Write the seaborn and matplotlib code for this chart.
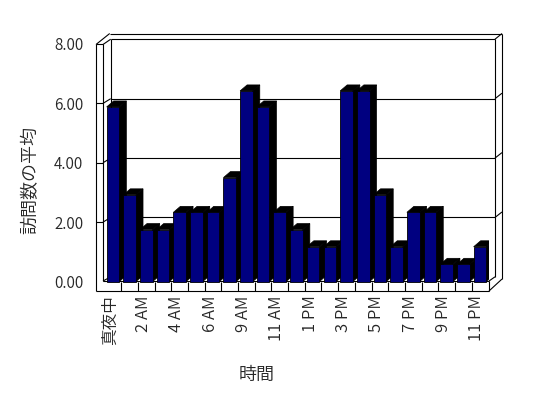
import matplotlib
matplotlib.use("Agg")
import matplotlib.pyplot as plt
from matplotlib.collections import LineCollection
from matplotlib.patches import Polygon
from matplotlib.transforms import ScaledTranslation
import seaborn as sns

# ---- data ----
hours = ["真夜中", "1 AM", "2 AM", "3 AM", "4 AM", "5 AM", "6 AM", "7 AM",
         "9 AM", "10 AM", "11 AM", "正午", "1 PM", "2 PM", "3 PM", "4 PM",
         "5 PM", "6 PM", "7 PM", "8 PM", "9 PM", "10 PM", "11 PM"]
visits = [5.88, 2.92, 1.75, 1.75, 2.33, 2.33, 2.33, 3.50,
          6.42, 5.88, 2.33, 1.75, 1.17, 1.17, 6.42, 6.42,
          2.92, 1.17, 2.33, 2.33, 0.58, 0.58, 1.17]
shown_labels = ["真夜中", "", "2 AM", "", "4 AM", "", "6 AM", "", "9 AM", "",
                "11 AM", "", "1 PM", "", "3 PM", "", "5 PM", "", "7 PM", "",
                "9 PM", "", "11 PM"]
y_ticks = [0, 2, 4, 6, 8]
y_ticklabels = ["0.00", "2.00", "4.00", "6.00", "8.00"]

sns.set_style("white")
plt.rcParams['font.family'] = ['Noto Sans CJK JP', 'DejaVu Sans']
FW = 350

W, H = 548, 398
fig = plt.figure(figsize=(W / 100, H / 100), dpi=100)
fig.patch.set_facecolor("white")

# pixel geometry of the front plane
X0, Y0 = 113.0, 281.5       # centre of first category, value 0
PX, PY = 16.68, 29.75       # px per category, px per unit
L, R, T, B = 96, 489, 44, 291

ax = fig.add_axes([L / W, (H - B) / H, (R - L) / W, (B - T) / H])
ax.set_facecolor("white")

def d(X, Y):
    return ((X - X0) / PX, (Y0 - Y) / PY)

sns.barplot(x=hours, y=visits, color="#000080", saturation=1, width=0.76,
            edgecolor="black", linewidth=0.6, ax=ax)

ax.set_xlim(d(L, 0)[0], d(R, 0)[0])
ax.set_ylim(d(0, B)[1], d(0, T)[1])

# 3D side and top of bars
bdx, bdy = 7 / PX, 6 / PY
for i, p in enumerate(ax.patches):
    x0, w, h = p.get_x(), p.get_width(), p.get_height()
    z = 2 + 0.01 * i
    p.set_zorder(z + 0.005)
    side = Polygon([(x0 + w, 0), (x0 + w + bdx, bdy), (x0 + w + bdx, h + bdy), (x0 + w, h)],
                   closed=True, facecolor="black", edgecolor="black", lw=0.5, zorder=z)
    top = Polygon([(x0, h), (x0 + bdx, h + bdy), (x0 + w + bdx, h + bdy), (x0 + w, h)],
                  closed=True, facecolor="black", edgecolor="black", lw=0.5, zorder=z)
    ax.add_patch(side)
    ax.add_patch(top)

# walls and floor
segs_px = [
    [(96, 44), (96, 291)], [(103, 44), (103, 281)], [(96, 44), (103, 44)],
    [(96, 44), (109.7, 33)], [(103, 44), (110.7, 38.7)],
    [(109.7, 33), (502, 33)], [(110.7, 38.7), (495, 38.7)],
    [(110.7, 38.7), (110.7, 276.8)], [(495, 38.7), (495, 276.8)],
    [(502, 33), (502, 279)], [(495, 38.7), (502, 33)],
    [(96, 291), (489, 291)], [(103, 281), (489, 281)], [(489, 281), (489, 291)],
    [(489, 291), (502, 279)], [(489, 281), (495, 276.8)], [(103, 281), (110.7, 276.8)],
]
for v in y_ticks[1:-1]:
    Yv = Y0 - PY * v
    segs_px += [[(96, Yv), (103, Yv)], [(103, Yv), (110.7, Yv - 4.7)],
                [(110.7, Yv - 4.7), (495, Yv - 4.7)], [(495, Yv - 4.7), (502, Yv - 10.2)]]
segs = [[d(*a), d(*b)] for a, b in segs_px]
for i in range(len(hours) - 1):
    segs.append([(i + 0.5, d(0, B)[1]), (i + 0.5, 0)])
lc = LineCollection(segs, colors="black", linewidths=0.8, zorder=1, clip_on=False)
ax.add_collection(lc)

for s in ax.spines.values():
    s.set_visible(False)

ax.set_xticks(range(len(hours)))
ax.set_xticklabels(shown_labels, rotation=90, fontsize=12, fontweight=FW)
ax.set_yticks(y_ticks)
ax.set_yticklabels(y_ticklabels, fontsize=11, fontweight=FW)
ax.tick_params(axis="x", length=0, pad=3)
ax.tick_params(axis="y", length=0, pad=9)
shift = ScaledTranslation(-3 / 100, 0, fig.dpi_scale_trans)
for lab in ax.get_xticklabels():
    lab.set_transform(lab.get_transform() + shift)

ax.set_xlabel("時間", fontsize=13, fontweight=FW)
ax.set_ylabel("訪問数の平均", fontsize=13, fontweight=FW)
ax.xaxis.set_label_coords((257 - L) / (R - L), (B - 366) / (B - T))
ax.yaxis.set_label_coords((39 - L) / (R - L), (B - 180) / (B - T))
ax.grid(False)

fig.savefig("out.png", dpi=100)
